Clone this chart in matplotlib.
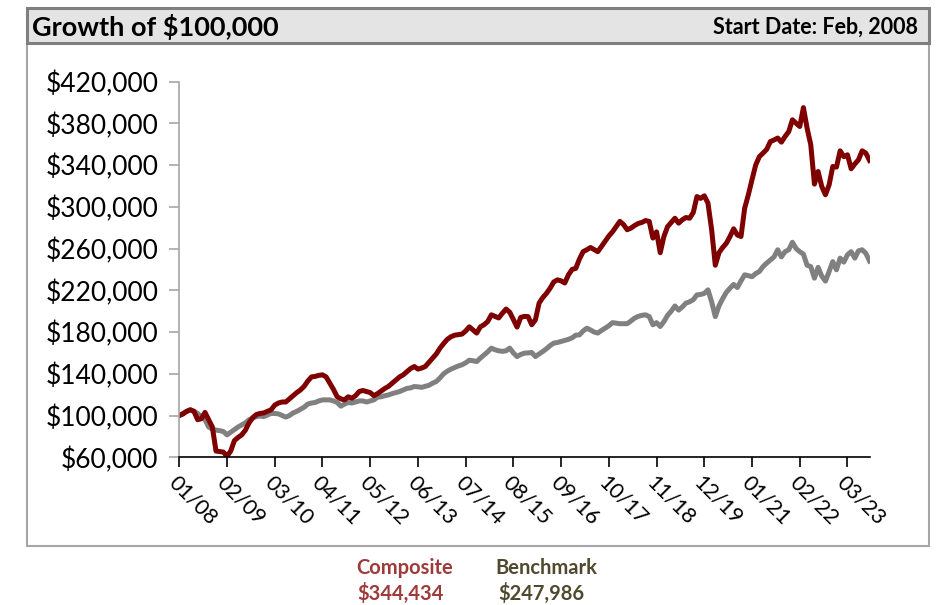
import numpy as np
import matplotlib.pyplot as plt
from matplotlib.patches import Rectangle
from matplotlib.ticker import FuncFormatter

# monthly values (thousands of $)
composite = [
    100.0, 101.5, 104.0, 105.5, 104.0, 96.0, 97.0, 103.0, 96.0, 89.0, 66.0, 65.5,
    65.0, 61.0, 66.0, 76.0, 79.0, 81.5, 86.0, 93.0, 98.0, 101.0, 102.0, 102.5,
    104.0, 105.5, 110.0, 112.0, 113.0, 113.0, 116.0, 119.0, 122.0, 124.5, 128.0, 133.0,
    137.0, 137.5, 138.5, 139.0, 137.0, 131.0, 125.0, 118.0, 116.0, 115.0, 118.0, 116.5,
    119.0, 123.0, 124.0, 123.0, 122.0, 119.0, 121.0, 123.5, 126.0, 128.0, 131.0, 134.0,
    137.0, 139.0, 142.0, 145.0, 147.0, 144.5, 145.5, 147.0, 151.0, 155.0, 159.0, 164.5,
    169.0, 173.0, 175.5, 177.0, 177.5, 178.0, 181.0, 185.0, 182.0, 179.0, 185.0, 187.0,
    190.0, 196.5, 195.0, 193.5, 198.0, 202.0, 199.0, 192.0, 184.7, 194.0, 195.0, 194.8,
    187.0, 191.7, 207.7, 213.0, 217.0, 222.0, 228.0, 230.0, 229.0, 227.0, 234.8, 240.0,
    241.0, 250.0, 257.0, 258.8, 261.0, 259.0, 257.0, 262.0, 267.0, 272.0, 276.0, 281.0,
    286.0, 283.0, 278.0, 279.5, 282.0, 284.0, 285.0, 286.8, 286.0, 270.0, 276.0, 256.0,
    271.5, 281.0, 285.0, 289.0, 284.3, 287.5, 289.7, 289.0, 294.5, 309.8, 308.0, 310.5,
    303.5, 278.0, 244.0, 256.0, 261.0, 265.0, 271.5, 278.9, 273.0, 271.5, 298.7, 311.5,
    326.0, 340.0, 348.0, 351.4, 355.0, 362.5, 364.0, 365.8, 361.9, 367.3, 372.0, 383.3,
    380.0, 376.9, 395.0, 375.3, 359.4, 321.7, 333.8, 319.4, 311.5, 321.0, 338.6, 338.0,
    353.6, 348.0, 349.8, 336.4, 341.0, 345.0, 353.6, 351.4, 344.434,
]
benchmark = [
    100.0, 102.0, 104.0, 105.5, 104.0, 102.0, 99.0, 96.0, 89.0, 87.0, 86.0, 85.5,
    84.7, 81.5, 84.0, 86.5, 89.0, 91.0, 93.0, 96.0, 97.5, 99.0, 99.5, 99.0,
    100.5, 102.0, 102.0, 101.6, 100.0, 98.5, 100.0, 102.5, 104.0, 106.0, 108.0, 111.0,
    112.0, 112.5, 114.0, 115.0, 115.0, 115.0, 114.0, 112.5, 109.0, 111.0, 112.5, 112.0,
    113.0, 114.0, 114.0, 113.0, 114.0, 115.0, 117.6, 118.0, 119.0, 119.8, 121.0, 122.0,
    123.0, 124.5, 126.0, 126.5, 127.8, 127.5, 127.0, 128.0, 129.0, 131.0, 132.6, 136.0,
    140.0, 142.5, 144.5, 146.0, 147.5, 148.6, 150.5, 153.0, 152.5, 151.7, 155.0, 158.0,
    161.0, 164.6, 163.0, 162.0, 161.5, 162.0, 164.6, 160.0, 156.5, 158.5, 159.8, 160.0,
    160.4, 156.5, 159.0, 161.3, 164.0, 167.0, 169.4, 170.0, 171.0, 172.0, 173.0, 174.5,
    177.0, 177.3, 181.0, 183.7, 182.0, 180.0, 179.0, 181.5, 183.7, 186.0, 189.0, 188.5,
    188.0, 188.0, 188.0, 190.5, 193.3, 195.0, 196.0, 196.5, 194.8, 186.9, 189.0, 185.3,
    190.0, 196.0, 200.0, 205.0, 201.0, 204.0, 207.7, 209.0, 211.0, 215.6, 216.0, 217.0,
    220.4, 209.0, 194.8, 205.0, 212.0, 218.0, 222.0, 225.6, 222.6, 229.0, 234.8, 234.0,
    233.0, 236.0, 238.0, 242.7, 246.0, 249.0, 252.0, 258.8, 252.0, 257.0, 258.8, 266.0,
    260.0, 257.0, 254.6, 244.0, 242.7, 231.6, 242.0, 233.5, 228.8, 238.0, 247.5, 239.6,
    250.8, 247.0, 254.0, 257.0, 250.8, 257.8, 258.8, 255.5, 247.986,
]
tick_labels = ["01/08", "02/09", "03/10", "04/11", "05/12", "06/13", "07/14", "08/15",
               "09/16", "10/17", "11/18", "12/19", "01/21", "02/22", "03/23"]
y_ticks = [60000, 100000, 140000, 180000, 220000, 260000, 300000, 340000, 380000, 420000]

comp = np.array(composite) * 1000
bench = np.array(benchmark) * 1000
x = np.arange(len(comp))

W, H = 944, 605
plt.rcParams['font.family'] = ['Lato', 'DejaVu Sans']
fig = plt.figure(figsize=(W / 100, H / 100), dpi=100, facecolor='white')

def fx(px):
    return px / W

def fy(py):
    return 1 - py / H

# title bar and frame
fig.add_artist(Rectangle((fx(27), fy(546)), fx(902), 503 / H, transform=fig.transFigure,
                         facecolor='none', edgecolor='#a6a6a6', lw=1.5))
fig.add_artist(Rectangle((fx(27), fy(43)), fx(902), 35 / H, transform=fig.transFigure,
                         facecolor='#e4e4e4', edgecolor='#7f7f7f', lw=2.2))
fig.text(fx(32), fy(27), "Growth of $100,000", fontsize=19.5, fontweight='bold',
         va='center', ha='left', color='black')
fig.text(fx(918), fy(27), "Start Date: Feb, 2008", fontsize=15.5, fontweight='bold',
         va='center', ha='right', color='black')

ax = fig.add_axes([fx(179.3), fy(457.3), fx(869.5 - 179.3), (457.3 - 81.5) / H])
ax.plot(x, bench, color='#808080', lw=3.6, solid_joinstyle='round')
ax.plot(x, comp, color='#7f0000', lw=3.6, solid_joinstyle='round')

ax.set_xlim(0, len(x) - 1)
ax.set_ylim(60000, 420000)
ax.set_yticks(y_ticks)
ax.yaxis.set_major_formatter(FuncFormatter(lambda v, p: f"${v:,.0f}"))
ax.set_xticks(np.arange(len(tick_labels)) * 13)
ax.set_xticklabels(tick_labels, rotation=-45, ha='left', va='top', rotation_mode='anchor')

for s in ['top', 'right']:
    ax.spines[s].set_visible(False)
ax.spines['left'].set_color('#a6a6a6')
ax.spines['left'].set_linewidth(1.2)
ax.spines['bottom'].set_color('black')
ax.spines['bottom'].set_linewidth(1.2)
ax.tick_params(axis='y', colors='#a6a6a6', labelcolor='black', labelsize=19, length=7, width=1.2, pad=8)
ax.tick_params(axis='x', colors='black', labelsize=15.5, length=7, width=1.2, pad=4)

# legend below the chart
fig.text(fx(405), fy(568), "Composite", fontsize=14.5, fontweight='bold', color='#9e3a3a',
         ha='center', va='center')
fig.text(fx(401), fy(593), f"${comp[-1]:,.0f}", fontsize=14.5, fontweight='bold', color='#9e3a3a',
         ha='center', va='center')
fig.text(fx(546), fy(568), "Benchmark", fontsize=14.5, fontweight='bold', color='#4f4a2e',
         ha='center', va='center')
fig.text(fx(541), fy(593), f"${bench[-1]:,.0f}", fontsize=14.5, fontweight='bold', color='#4f4a2e',
         ha='center', va='center')

fig.savefig("out.png", dpi=100, facecolor='white')
